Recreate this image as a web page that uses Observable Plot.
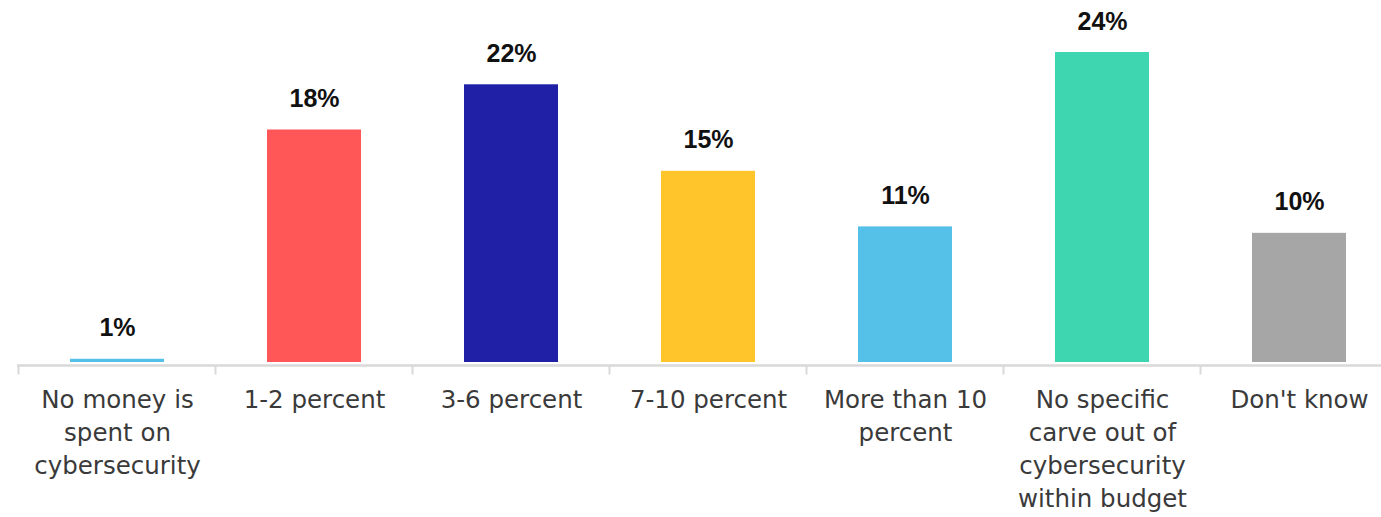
<!DOCTYPE html>
<html>
<head>
<meta charset="utf-8">
<script src="https://cdn.jsdelivr.net/npm/d3@7"></script>
<script src="https://cdn.jsdelivr.net/npm/@observablehq/plot@0.6"></script>
<style>
  html, body { margin: 0; padding: 0; background: #ffffff; }
  #chart svg { display: block; }
</style>
</head>
<body>
<div id="chart"></div>
<script>
const categories = [
  "No money is\nspent on\ncybersecurity",
  "1-2 percent",
  "3-6 percent",
  "7-10 percent",
  "More than 10\npercent",
  "No specific\ncarve out of\ncybersecurity\nwithin budget",
  "Don't know"
];
const values = [0.25, 18, 21.5, 14.8, 10.5, 24, 10];
const valueLabels = ["1%", "18%", "22%", "15%", "11%", "24%", "10%"];
const colors = ["#56C1E8", "#FF5757", "#1F20A6", "#FFC52B", "#56C1E8", "#3ED6B1", "#A6A6A6"];

const data = categories.map((c, i) => ({cat: c, value: values[i], label: valueLabels[i], color: colors[i]}));

function baseAxis(index, scales, channels, dimensions) {
  const x = scales.x, y = scales.y;
  const step = x.step();
  const bw = x.bandwidth();
  const y0 = y(0) + 3.5;
  const g = d3.create("svg:g");
  g.append("line")
    .attr("x1", dimensions.marginLeft).attr("x2", dimensions.width - dimensions.marginRight)
    .attr("y1", y0).attr("y2", y0)
    .attr("stroke", "#d9d9d9").attr("stroke-width", 2.5);
  for (const c of categories) {
    const bx = x(c) + bw / 2 - step / 2;
    g.append("line")
      .attr("x1", bx).attr("x2", bx)
      .attr("y1", y0).attr("y2", y0 + 9)
      .attr("stroke", "#d9d9d9").attr("stroke-width", 2);
  }
  return g.node();
}

const chart = Plot.plot({
  width: 1381,
  height: 517,
  marginLeft: 17,
  marginRight: 0,
  marginTop: 0,
  marginBottom: 0,
  style: {background: "#ffffff", fontFamily: "DejaVu Sans"},
  x: {domain: categories, range: [17, 1398], paddingInner: 0.524, paddingOuter: 0.262, axis: null},
  y: {domain: [0, 24], range: [362, 52], axis: null},
  marks: [
    Plot.barY(data, {x: "cat", y: "value", fill: "color"}),
    baseAxis,
    Plot.text(data, {
      x: "cat", y: "value", text: "label", dy: -31, lineAnchor: "middle",
      fontFamily: "Liberation Sans", fontWeight: "bold", fontSize: 25, fill: "#111111"
    }),
    Plot.text(data, {
      x: "cat", y: () => 0, text: "cat", dy: 22, lineAnchor: "top", lineHeight: 1.35,
      fontFamily: "DejaVu Sans", fontSize: 24.5, fill: "#3a3a3a"
    })
  ]
});
document.getElementById("chart").appendChild(chart);
</script>
</body>
</html>
